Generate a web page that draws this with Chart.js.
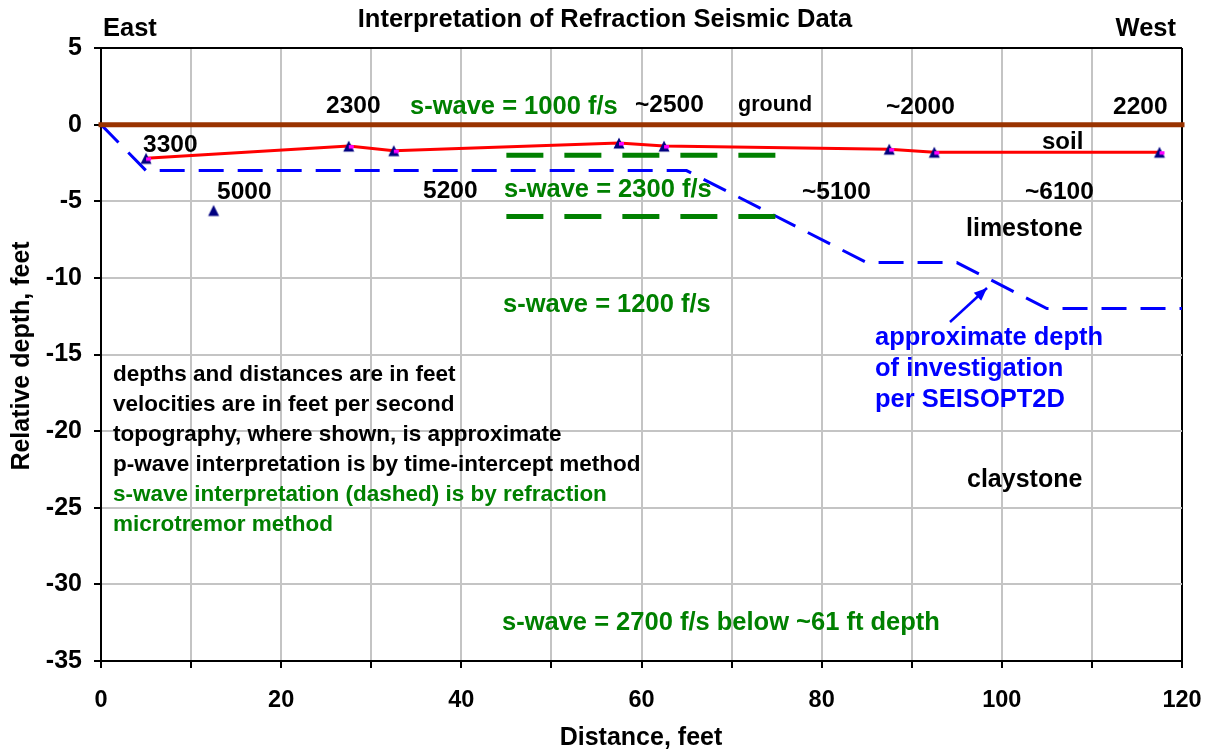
<!DOCTYPE html>
<html>
<head>
<meta charset="utf-8">
<script src="https://cdn.jsdelivr.net/npm/chart.js@4.4.0/dist/chart.umd.min.js"></script>
<style>
  html, body { margin: 0; padding: 0; background: #fff; }
  canvas { display: block; }
</style>
</head>
<body>
<canvas id="chart" width="1209" height="752"></canvas>
<script>
// --- data read off the section ---
// ground surface
const groundX = [0, 120];
const groundY = [0, 0];
// base of soil (p-wave picks)
const soilX = [5, 27.5, 32.5, 57.5, 62.5, 87.5, 92.5, 117.5];
const soilY = [-2.2, -1.4, -1.7, -1.2, -1.4, -1.6, -1.8, -1.8];
// lone deeper pick
const deepX = [12.5];
const deepY = [-5.6];
// approximate depth of investigation (SEISOPT2D)
const doiX = [0, 5, 65, 85, 95, 105, 120];
const doiY = [0, -3, -3, -9, -9, -12, -12];
// s-wave layer boundaries
const sUpperX = [45, 75];
const sUpperY = [-2, -2];
const sLowerX = [45, 75];
const sLowerY = [-6, -6];
// axis ticks
const xTickLabels = [0, 20, 40, 60, 80, 100, 120];
const yTickLabels = [5, 0, -5, -10, -15, -20, -25, -30, -35];

const pts = (xs, ys) => xs.map((x, i) => ({ x: x, y: ys[i] }));

const FONT = '"Liberation Sans", Arial, Helvetica, sans-serif';
const GREEN = '#008000';
const BLUE = '#0000ff';

// marker: navy triangle with the small magenta patch seen on the soil picks
function makeMarker(withPatch) {
    const c = document.createElement('canvas');
    c.width = 14;
    c.height = 14;
    const g = c.getContext('2d');
    g.fillStyle = '#000080';
    g.beginPath();
    g.moveTo(7, 1.5);
    g.lineTo(12.5, 12.5);
    g.lineTo(1.5, 12.5);
    g.closePath();
    g.fill();
    if (withPatch) {
        g.fillStyle = '#ff00ff';
        g.fillRect(7, 6, 5, 3.5);
    }
    return c;
}
const soilMarker = makeMarker(true);
const deepMarker = makeMarker(false);

// text on the picture: [text, x, y, align, colour, size]
const texts = [
    ['Interpretation of Refraction Seismic Data', 605, 20, 'center', '#000', 25.5],
    ['East', 103, 29, 'left', '#000', 25.5],
    ['West', 1176, 29, 'right', '#000', 25.5],
    ['2300', 326, 106, 'left', '#000', 24.5],
    ['s-wave = 1000 f/s', 410, 107, 'left', GREEN, 25.5],
    ['~2500', 635, 105, 'left', '#000', 24.5],
    ['ground', 738, 105, 'left', '#000', 21.5],
    ['~2000', 886, 107, 'left', '#000', 24.5],
    ['2200', 1113, 107, 'left', '#000', 24.5],
    ['3300', 143, 145, 'left', '#000', 24.5],
    ['soil', 1042, 142, 'left', '#000', 24],
    ['5000', 217, 192, 'left', '#000', 24.5],
    ['5200', 423, 191, 'left', '#000', 24.5],
    ['s-wave = 2300 f/s', 504, 190, 'left', GREEN, 25.5],
    ['~5100', 802, 192, 'left', '#000', 24.5],
    ['~6100', 1025, 192, 'left', '#000', 24.5],
    ['limestone', 966, 229, 'left', '#000', 25],
    ['s-wave = 1200 f/s', 503, 305, 'left', GREEN, 25.5],
    ['approximate depth', 875, 338, 'left', BLUE, 25.5],
    ['of investigation', 875, 369, 'left', BLUE, 25.5],
    ['per SEISOPT2D', 875, 400, 'left', BLUE, 25.5],
    ['depths and distances are in feet', 113, 375, 'left', '#000', 22.5],
    ['velocities are in feet per second', 113, 405, 'left', '#000', 22.5],
    ['topography, where shown, is approximate', 113, 435, 'left', '#000', 22.5],
    ['p-wave interpretation is by time-intercept method', 113, 465, 'left', '#000', 22.5],
    ['s-wave interpretation (dashed) is by refraction', 113, 495, 'left', GREEN, 22.5],
    ['microtremor method', 113, 525, 'left', GREEN, 22.5],
    ['claystone', 967, 480, 'left', '#000', 25],
    ['s-wave = 2700 f/s below ~61 ft depth', 502, 623, 'left', GREEN, 25.5],
    ['Distance, feet', 641, 738, 'center', '#000', 25]
];

const textPlugin = {
    id: 'texts',
    afterDraw(chart) {
        const ctx = chart.ctx;
        ctx.save();
        ctx.textBaseline = 'middle';
        texts.forEach(t => {
            ctx.font = 'bold ' + t[5] + 'px ' + FONT;
            ctx.fillStyle = t[4];
            ctx.textAlign = t[3];
            ctx.fillText(t[0], t[1], t[2]);
        });
        // y axis title
        ctx.translate(22, 356);
        ctx.rotate(-Math.PI / 2);
        ctx.font = 'bold 25px ' + FONT;
        ctx.fillStyle = '#000';
        ctx.textAlign = 'center';
        ctx.fillText('Relative depth, feet', 0, 0);
        ctx.restore();

        // arrow pointing at the depth-of-investigation line
        ctx.save();
        ctx.strokeStyle = BLUE;
        ctx.fillStyle = BLUE;
        ctx.lineWidth = 2.5;
        const x1 = 950, y1 = 322, x2 = 987, y2 = 288;
        ctx.beginPath();
        ctx.moveTo(x1, y1);
        ctx.lineTo(x2, y2);
        ctx.stroke();
        const a = Math.atan2(y2 - y1, x2 - x1);
        ctx.beginPath();
        ctx.moveTo(x2, y2);
        ctx.lineTo(x2 - 14 * Math.cos(a - 0.4), y2 - 14 * Math.sin(a - 0.4));
        ctx.lineTo(x2 - 14 * Math.cos(a + 0.4), y2 - 14 * Math.sin(a + 0.4));
        ctx.closePath();
        ctx.fill();
        ctx.restore();
    }
};

const line = (data, color, width, dash, order) => ({
    data: data,
    showLine: true,
    borderColor: color,
    backgroundColor: color,
    borderWidth: width,
    borderDash: dash,
    pointRadius: 0,
    fill: false,
    order: order
});

const ground = line(pts(groundX, groundY), '#993300', 5, [], 2);
ground.borderCapStyle = 'square';
ground.clip = 6;

new Chart(document.getElementById('chart'), {
    type: 'scatter',
    data: {
        datasets: [
            {
                data: pts(soilX, soilY),
                showLine: false,
                pointStyle: soilMarker,
                pointRadius: 7,
                order: 0
            },
            {
                data: pts(deepX, deepY),
                showLine: false,
                pointStyle: deepMarker,
                pointRadius: 7,
                order: 0
            },
            line(pts(soilX, soilY), '#ff0000', 3, [], 1),
            ground,
            line(pts(sUpperX, sUpperY), GREEN, 5, [37, 21], 3),
            line(pts(sLowerX, sLowerY), GREEN, 5, [37, 21], 3),
            line(pts(doiX, doiY), BLUE, 3, [25, 14], 4)
        ]
    },
    options: {
        responsive: false,
        animation: false,
        devicePixelRatio: 1,
        layout: { padding: { top: 48, right: 27, left: 0, bottom: 0 } },
        plugins: { legend: { display: false }, tooltip: { enabled: false } },
        scales: {
            x: {
                type: 'linear',
                min: 0,
                max: 120,
                afterFit(scale) {
                    scale.height = 91;
                    scale.paddingLeft = 0;
                    scale.paddingRight = 0;
                },
                ticks: {
                    stepSize: 10,
                    autoSkip: false,
                    maxRotation: 0,
                    padding: 18,
                    color: '#000',
                    font: { family: FONT, size: 23.5, weight: 'bold' },
                    callback: v => xTickLabels.includes(v) ? v : ''
                },
                grid: {
                    color: c => c.tick && c.tick.value === 120 ? '#000' : '#c4c4c4',
                    lineWidth: 2,
                    tickColor: '#000',
                    tickWidth: 2,
                    tickLength: 7
                },
                border: { display: true, color: '#000', width: 2 }
            },
            y: {
                type: 'linear',
                min: -35,
                max: 5,
                afterFit(scale) {
                    scale.width = 101;
                    scale.paddingTop = 0;
                    scale.paddingBottom = 0;
                },
                ticks: {
                    stepSize: 5,
                    autoSkip: false,
                    padding: 12,
                    color: '#000',
                    font: { family: FONT, size: 25, weight: 'bold' },
                    callback: v => yTickLabels.includes(v) ? v : ''
                },
                grid: {
                    color: c => c.tick && c.tick.value === 5 ? '#000' : '#c4c4c4',
                    lineWidth: 2,
                    tickColor: '#000',
                    tickWidth: 2,
                    tickLength: 7
                },
                border: { display: true, color: '#000', width: 2 }
            }
        }
    },
    plugins: [textPlugin]
});
</script>
</body>
</html>
